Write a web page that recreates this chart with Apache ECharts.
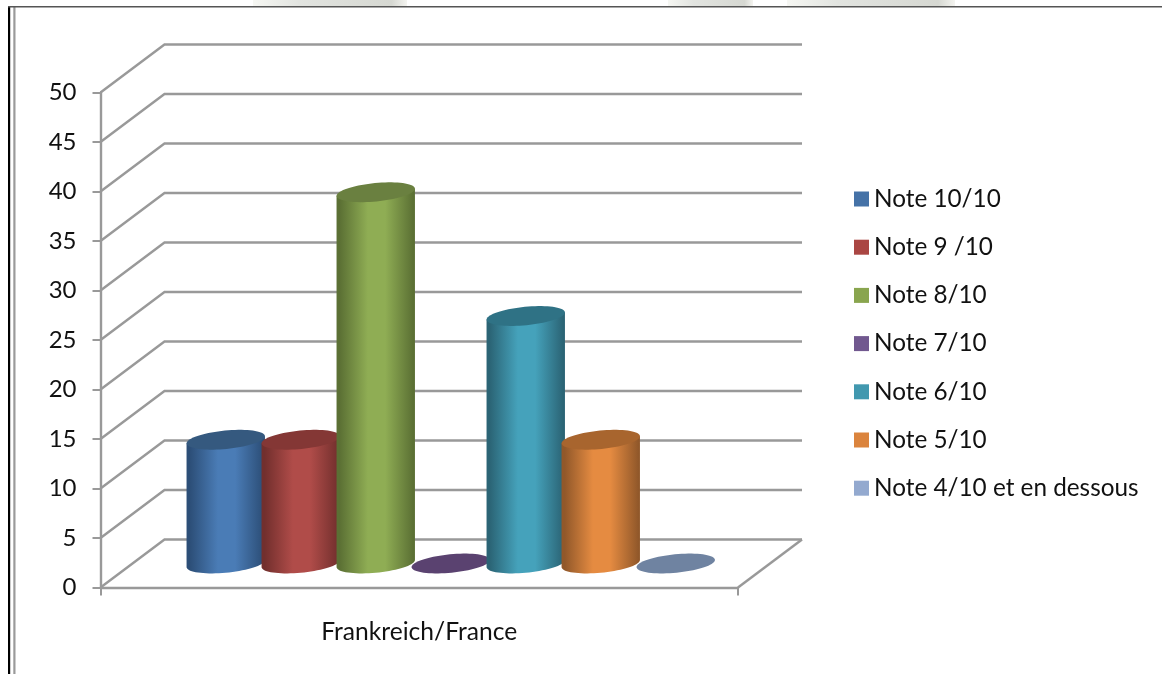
<!DOCTYPE html>
<html><head><meta charset="utf-8">
<style>html,body{margin:0;padding:0;background:#fff}#c{width:1162px;height:674px}</style>
<script src="https://cdn.jsdelivr.net/npm/echarts@6/dist/echarts.min.js"></script>
</head><body><div id="c"></div>
<script>
const categories = ['Frankreich/France'];
const seriesNames = ['Note 10/10','Note 9 /10','Note 8/10','Note 7/10','Note 6/10','Note 5/10','Note 4/10 et en dessous'];
const seriesValues = [12.5, 12.5, 37.5, 0, 25, 12.5, 0];
const yTicks = [0,5,10,15,20,25,30,35,40,45,50];

const legendColors = ['#4572a7','#aa4643','#89a54e','#71588f','#4198af','#db843d','#93a9cf'];
const lightColors  = ['#4a7cb6','#b04c49','#8fad54','#7a5f9a','#45a2bb','#e58b41','#93a9cf'];
const darkColors   = ['#2c4e77','#722f2d','#5b7034','#4b3a60','#2b6475','#91582a','#62708a'];
const topColors    = ['#35597f','#843735','#6a8040','#5a4270','#2f7285','#a8652e','#6f83a1'];
const DX = 64, DY = -48;
const TILT = -5.5 * Math.PI / 180, RY = 9.2;

function ellipsePoint(cx, cy, a, b, t){
  return [cx + a*Math.cos(t)*Math.cos(TILT) - b*Math.sin(t)*Math.sin(TILT),
          cy + a*Math.cos(t)*Math.sin(TILT) + b*Math.sin(t)*Math.cos(TILT)];
}
function ellipsePoly(cx, cy, a, b){
  const pts=[]; for(let i=0;i<72;i++) pts.push(ellipsePoint(cx,cy,a,b,i/72*2*Math.PI)); return pts;
}
function cylinder(idx){
  return function(params, api){
    const v = api.value(1);
    const base = api.coord([0,0]), top = api.coord([0,v]);
    const band = api.size([1,0])[0];
    const step = band/(seriesNames.length+1.5);
    const cx = base[0]-band/2 + step*0.75 + step*(idx+0.5) + 31.5;
    const yb = base[1]+DY/2, yt = top[1]+DY/2;
    const a = step*0.525;
    const children=[];
    if(v>0){
      const t0 = Math.atan2(-RY*Math.sin(TILT), a*Math.cos(TILT));
      const pts=[];
      for(let i=0;i<=36;i++){ pts.push(ellipsePoint(cx,yb,a,RY,t0+i/36*Math.PI)); }
      pts.push(ellipsePoint(cx,yt,a,RY,t0+Math.PI));
      pts.push(ellipsePoint(cx,yt,a,RY,t0));
      children.push({type:'polygon',shape:{points:pts},style:{fill:new echarts.graphic.LinearGradient(0,0,1,0,[
        {offset:0,color:darkColors[idx]},{offset:0.04,color:darkColors[idx]},
        {offset:0.4,color:lightColors[idx]},{offset:0.62,color:lightColors[idx]},
        {offset:0.98,color:darkColors[idx]},{offset:1,color:darkColors[idx]}])}});
    }
    children.push({type:'polygon',shape:{points:ellipsePoly(cx,yt,a,RY)},style:{fill:topColors[idx]}});
    return {type:'group',children};
  };
}
function wallLine(params, api){
  const t = api.value(1);
  const p = api.coord([0,t]);
  const band = api.size([1,0])[0];
  const x0 = p[0]-band/2, x1 = p[0]+band/2;
  const pts = [[x0,p[1]],[x0+DX,p[1]+DY],[x1+DX,p[1]+DY]];
  const style = {stroke:'#999',lineWidth:2.4,fill:null};
  const ch=[{type:'polyline',shape:{points:pts},style}];
  if(t===0) ch.push({type:'polyline',shape:{points:[[x1,p[1]],[x1+DX,p[1]+DY]]},style});
  return {type:'group',children:ch};
}
const series=[{type:'custom',name:'wall',z:0,silent:true,renderItem:wallLine,
  data:yTicks.map(t=>[0,t]),encode:{x:0,y:1}}];
seriesNames.forEach((n,i)=>{
  series.push({type:'custom',name:n,z:seriesValues[i]===0?1:2,renderItem:cylinder(i),
    itemStyle:{color:legendColors[i]},data:[[0,seriesValues[i]]],encode:{x:0,y:1}});
});
const blocks=[[253,407],[668,753],[787,955]];
const graphic=[
  ...blocks.map(b=>({type:'rect',silent:true,z:-1,shape:{x:b[0],y:0,width:b[1]-b[0],height:6},
    style:{fill:new echarts.graphic.LinearGradient(0,0,1,0,[{offset:0,color:'#f6f7f3'},{offset:0.3,color:'#e2e4e0'},{offset:0.9,color:'#d6d8d2'},{offset:1,color:'#f4f4f0'}])}})),
  {type:'rect',silent:true,shape:{x:8,y:6,width:2.2,height:668},style:{fill:'#000'}},
  {type:'rect',silent:true,shape:{x:13.3,y:7,width:2.2,height:667},style:{fill:'#9a9a9a'}},
  {type:'rect',silent:true,shape:{x:8,y:6,width:1154,height:1.5},style:{fill:'#555'}}
];
echarts.init(document.getElementById('c'),null,{renderer:'canvas'}).setOption({
  animation:false,backgroundColor:'#fff',
  grid:{left:100.5,top:92.5,width:637.5,height:495},
  xAxis:{type:'category',data:categories,
    axisLine:{lineStyle:{color:'#999',width:2.4}},
    axisTick:{show:true,length:8,lineStyle:{color:'#999',width:2}},
    axisLabel:{color:'#111',fontFamily:'Lato',fontSize:24.6,margin:32},splitLine:{show:false}},
  yAxis:{type:'value',min:0,max:50,interval:5,
    axisLine:{show:true,lineStyle:{color:'#999',width:2.4}},
    axisTick:{show:true,length:8,lineStyle:{color:'#999',width:2}},
    axisLabel:{color:'#111',fontFamily:'Lato',fontSize:24,margin:24,padding:[4,0,0,0]},splitLine:{show:false}},
  legend:{orient:'vertical',left:849,top:182,itemWidth:15,itemHeight:15,itemGap:24.2,itemTextGap:6,icon:'rect',
    data:seriesNames,selectedMode:false,
    textStyle:{color:'#111',fontFamily:'Lato',fontSize:24.3,padding:0}},
  graphic,series
});
</script></body></html>
